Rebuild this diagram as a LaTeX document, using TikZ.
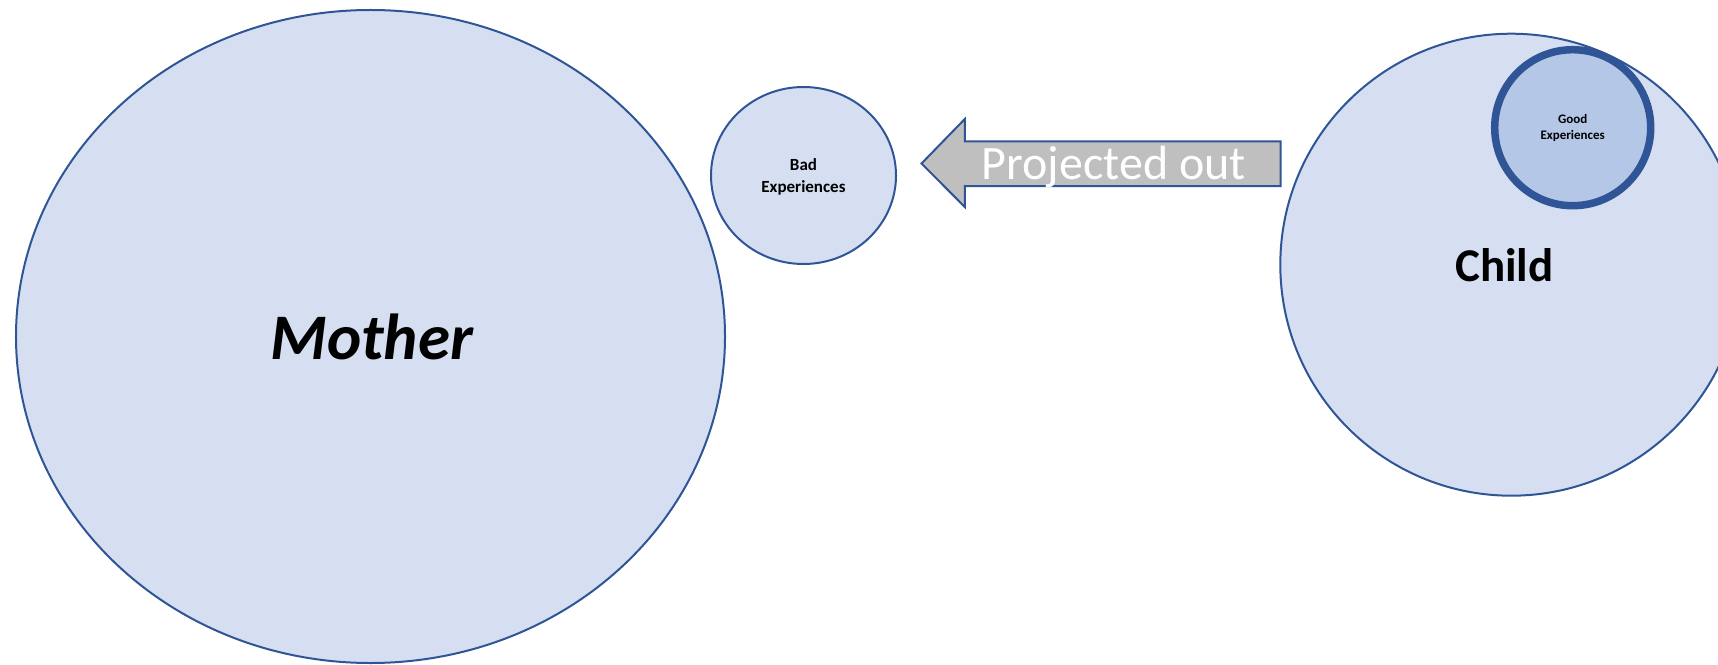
\documentclass[tikz,border=0pt]{standalone}
\usepackage{fontspec}
\setmainfont{Carlito}
\usetikzlibrary{shapes.geometric}
\definecolor{shapefill}{HTML}{D5DFF1}
\definecolor{shapeline}{HTML}{2F5597}
\definecolor{goodfill}{HTML}{B4C7E7}
\definecolor{arrowfill}{HTML}{BFBFBF}
\tikzset{
  blob/.style={ellipse, draw=shapeline, fill=shapefill, line width=2bp, inner sep=0pt},
  lbl/.style={anchor=base, inner sep=0pt, align=center, text=black},
  blockarrow/.style={draw=shapeline, fill=arrowfill, line width=2bp, line join=miter},
}
\begin{document}
\begin{tikzpicture}[x=1bp,y=-1bp]
\useasboundingbox (0,0) rectangle (1718,665);
\clip (0,0) rectangle (1718,665);

% large circles
\node[blob, minimum width=709bp, minimum height=653bp] (mother) at (370.5,336.5) {};
\node[blob, minimum width=185bp, minimum height=177bp] (bad) at (803.5,175.5) {};
\node[blob, minimum width=462bp, minimum height=462bp] (child) at (1511.3,264.7) {};
\node[blob, fill=goodfill, line width=7.5bp, minimum width=156bp, minimum height=156bp] (good) at (1572.7,127.7) {};

% block arrow pointing from the child towards the bad experiences
\coordinate (tail) at (1280.5,163.5);
\draw[blockarrow] (tail |- 0,141.5) -- (964.8,141.5) -- (964.8,119) -- (921.5,163.5)
  -- (964.8,207) -- (964.8,186) -- (tail |- 0,186) -- cycle;
\node[anchor=base west, inner sep=0pt, text=white, font=\fontsize{48bp}{56bp}\selectfont] (proj) at (981.6,179.3) {Projected out};

% labels (multi-line labels are placed by the baseline of their last line)
\node[lbl, font=\fontsize{65bp}{78bp}\selectfont\bfseries\itshape] (mlabel) at (371.6,359.6) {Mother};
\node[lbl, font=\fontsize{17bp}{22bp}\selectfont\bfseries] (blabel) at (803.5,192.7) {Bad\\Experiences};
\node[lbl, font=\fontsize{47bp}{56bp}\selectfont\bfseries] (clabel) at (1504.5,281.7) {Child};
\node[lbl, font=\fontsize{13bp}{15.5bp}\selectfont\bfseries] (glabel) at (1572.7,139.3) {Good\\Experiences};
\end{tikzpicture}
\end{document}
